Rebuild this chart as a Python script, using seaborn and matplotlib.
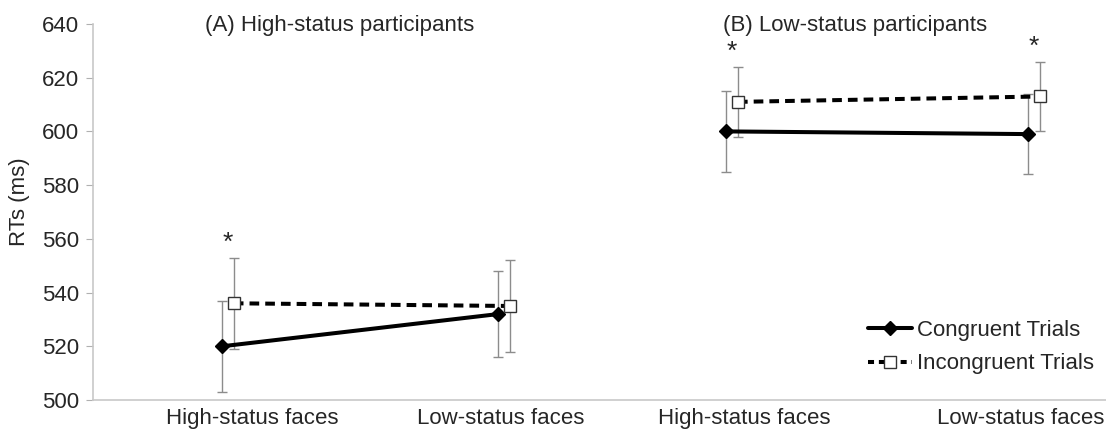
import numpy as np
import pandas as pd
import seaborn as sns
import matplotlib.pyplot as plt
import matplotlib.lines as mlines

sns.set_style('white')
plt.rcParams['font.family'] = ['Liberation Sans', 'DejaVu Sans']

# Data
face_labels = ['High-status faces', 'Low-status faces', 'High-status faces', 'Low-status faces']
cat_pos = [0.0, 1.0, 1.826, 2.92]          # uneven spacing as in the original
label_pos = [0.087, 0.986, 1.87, 2.87]     # tick labels are not centred on the points
groups = ['A', 'A', 'B', 'B']
congruent = [520, 532, 600, 599]
congruent_err = [17, 16, 15, 15]
incongruent = [536, 535, 611, 613]
incongruent_err = [17, 17, 13, 13]
star_idx = [0, 2, 3]                       # significant differences

offset = 0.021

df = pd.concat([
    pd.DataFrame({'x': np.array(cat_pos) - offset, 'rt': congruent, 'err': congruent_err,
                  'group': groups, 'trial': 'Congruent Trials'}),
    pd.DataFrame({'x': np.array(cat_pos) + offset, 'rt': incongruent, 'err': incongruent_err,
                  'group': groups, 'trial': 'Incongruent Trials'}),
], ignore_index=True)
cong = df[df['trial'] == 'Congruent Trials']
incong = df[df['trial'] == 'Incongruent Trials']

fig = plt.figure(figsize=(11.06, 4.32), dpi=100)
ax = fig.add_axes([0.0841, 0.0741, 0.9159, 0.8704])

# error bars
for sub in (cong, incong):
    ax.errorbar(sub['x'], sub['rt'], yerr=sub['err'], fmt='none', ecolor='#8c8c8c',
                elinewidth=1.0, capsize=3.5, capthick=1.0, zorder=1)

sns.lineplot(data=cong, x='x', y='rt', units='group', estimator=None, ax=ax,
             color='black', lw=2.9, marker='D', markersize=7,
             mec='black', mfc='black', mew=1, legend=False, zorder=3)
sns.lineplot(data=incong, x='x', y='rt', units='group', estimator=None, ax=ax,
             color='black', lw=2.9, linestyle=(0, (2.4, 1.5)), marker='s', markersize=9,
             mec='#333333', mfc='white', mew=1, legend=False, zorder=4)

# asterisks above the incongruent error bars
for i in star_idx:
    ax.text(cat_pos[i], incongruent[i] + incongruent_err[i] + 1, '*', ha='center', va='bottom',
            fontsize=19)

ax.text(0.1106, 0.997, '(A) High-status participants', transform=ax.transAxes,
        ha='left', va='center', fontsize=16, clip_on=False)
ax.text(0.622, 0.997, '(B) Low-status participants', transform=ax.transAxes,
        ha='left', va='center', fontsize=16, clip_on=False)

ax.set_xlim(-0.489, 3.18)
ax.set_ylim(500, 640)
ax.set_yticks(np.arange(500, 641, 20))
ax.set_xticks(label_pos)
ax.set_xticklabels(face_labels)
ax.tick_params(axis='x', length=0, labelsize=16, pad=6)
ax.tick_params(axis='y', length=5, color='#b0b0b0', labelsize=16, pad=5, direction='out', left=True)
ax.set_xlabel('')
ax.set_ylabel('RTs (ms)', fontsize=16)
ax.yaxis.set_label_coords(-0.062, 0.527)

for s in ['top', 'right']:
    ax.spines[s].set_visible(False)
for s in ['left', 'bottom']:
    ax.spines[s].set_color('#c8c8c8')
    ax.spines[s].set_linewidth(1.2)

handles = [
    mlines.Line2D([], [], color='black', lw=2.9, marker='D', markersize=7, mfc='black', mec='black'),
    mlines.Line2D([], [], color='black', lw=2.9, linestyle=(0, (1.5, 1.2)), marker='s',
                  markersize=8, mfc='white', mec='#333333', mew=1),
]
ax.legend(handles, ['Congruent Trials', 'Incongruent Trials'], loc='upper left',
          bbox_to_anchor=(0.765, 0.212), frameon=False, fontsize=16, borderpad=0,
          borderaxespad=0, handlelength=2.0, handletextpad=0.2, labelspacing=0.55)

fig.savefig('out.png', dpi=100)
